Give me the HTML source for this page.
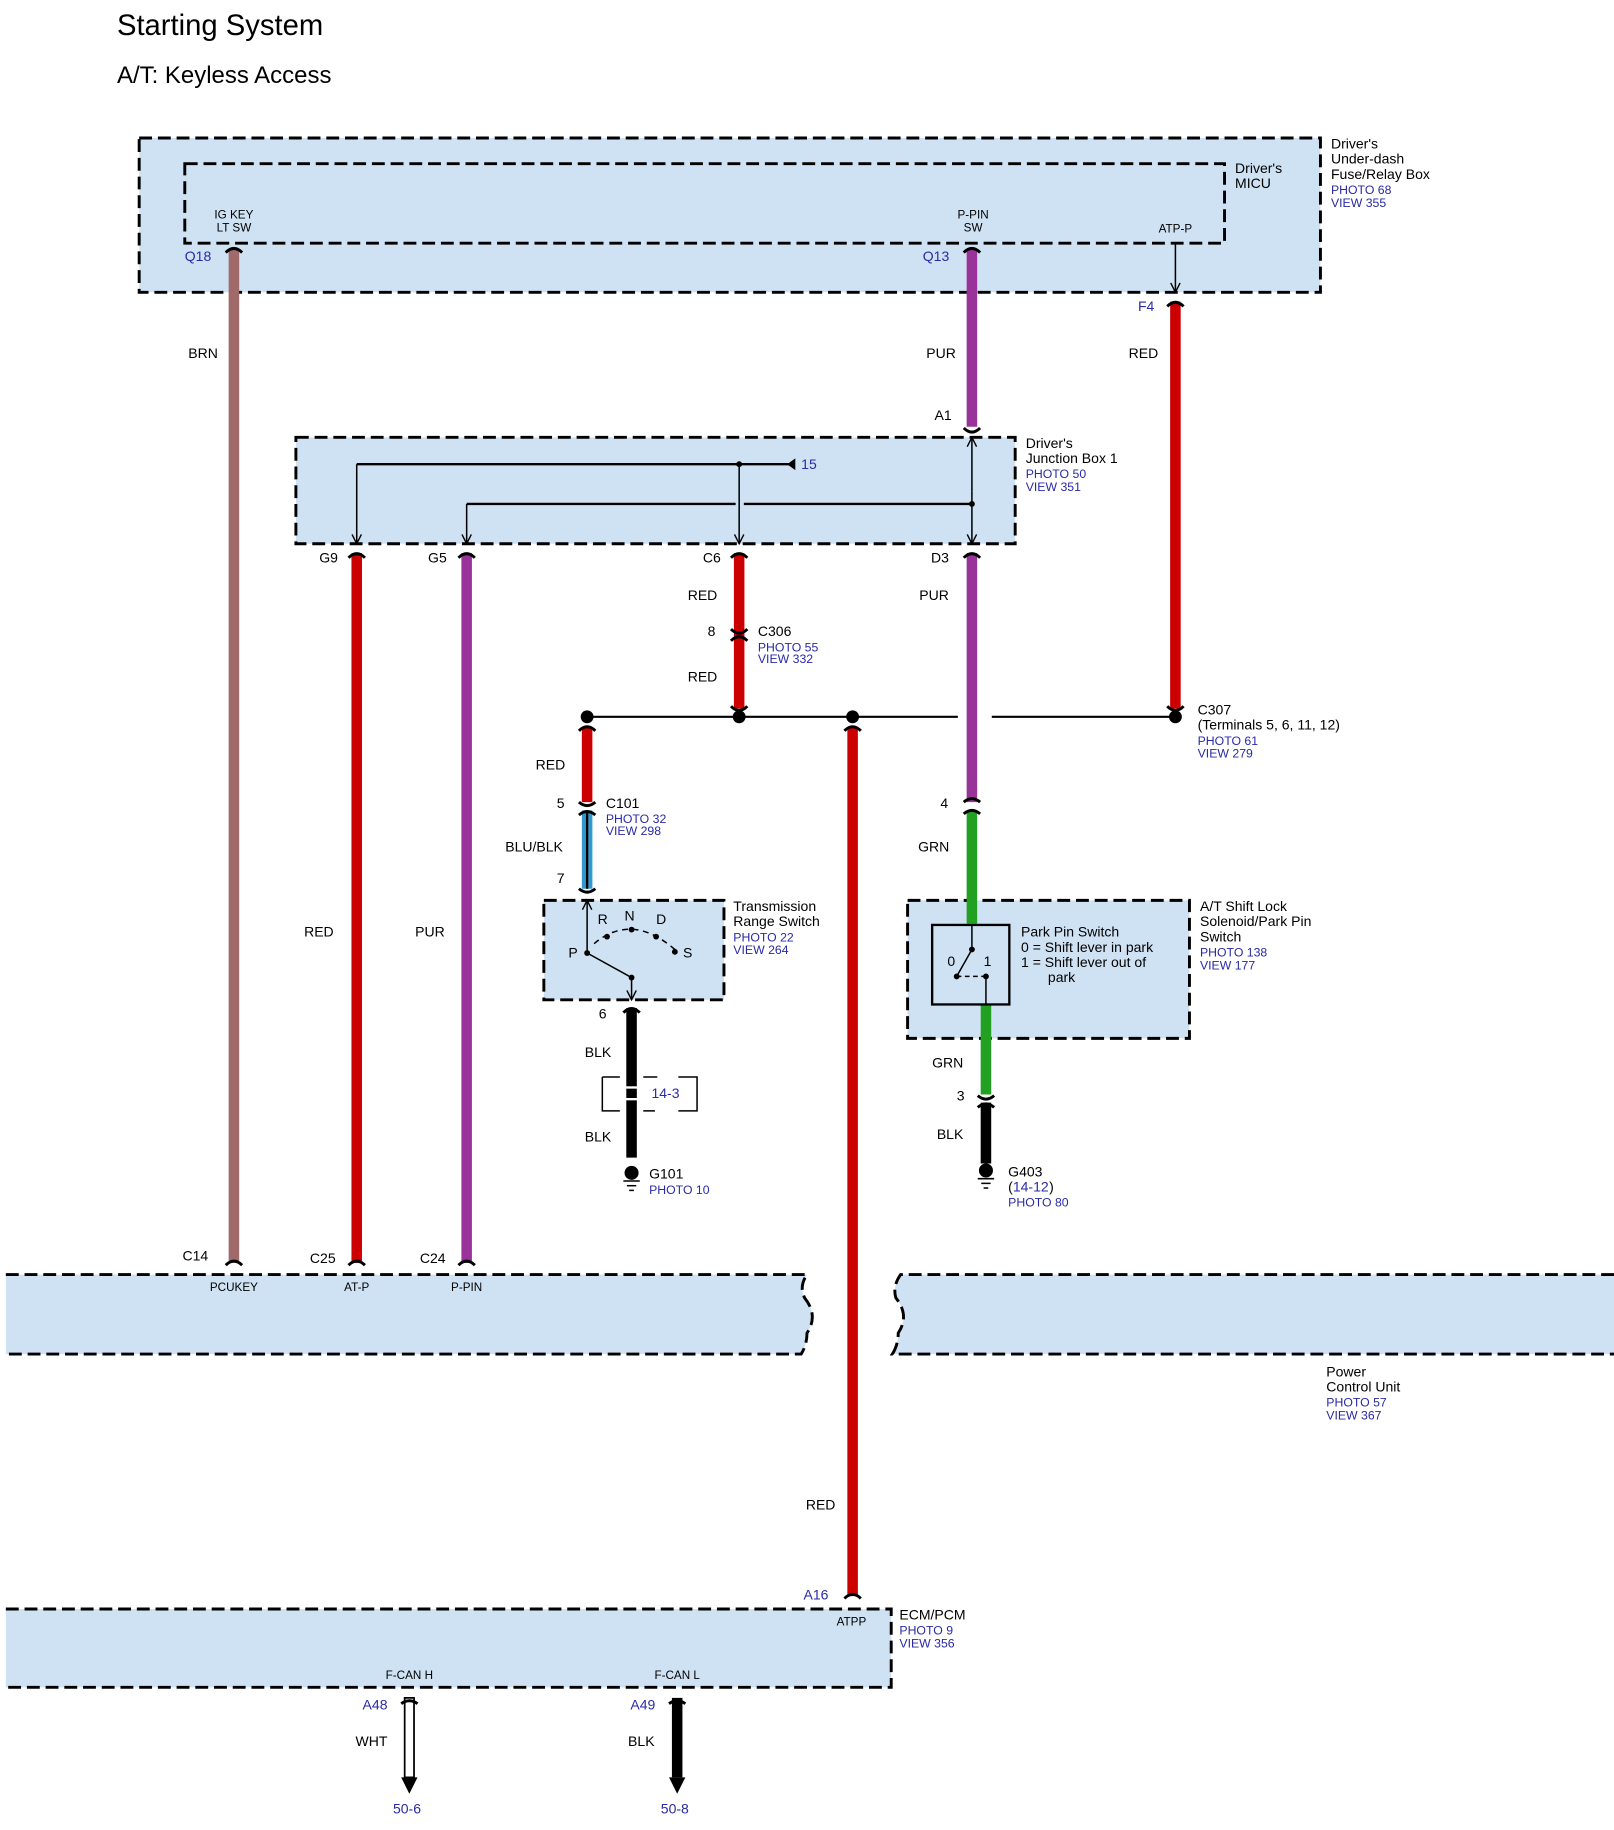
<!DOCTYPE html>
<html><head><meta charset="utf-8"><style>html,body{margin:0;padding:0;background:#fff}svg{display:block}</style></head>
<body>
<svg width="1614" height="1830" viewBox="0 0 1380 1565" preserveAspectRatio="none" xmlns="http://www.w3.org/2000/svg" font-family="Liberation Sans, sans-serif" font-size="12">
<defs>
<marker id="ar" markerWidth="10" markerHeight="10" refX="9" refY="5" orient="auto" markerUnits="userSpaceOnUse"><path d="M1,1 L9,5 L1,9" fill="none" stroke="#000" stroke-width="1.2"/></marker>
</defs>
<g fill="#000">
<text x="100" y="30" font-size="25">Starting System</text>
<text x="100" y="71" font-size="20.5">A/T: Keyless Access</text>
</g>
<!-- boxes -->
<g fill="#cfe2f3" stroke="#000" stroke-width="2.5" stroke-dasharray="11,5">
<rect x="119" y="118" width="1010" height="132"/>
<rect x="158" y="140" width="889" height="68"/>
<rect x="253" y="374" width="615" height="91"/>
<rect x="465" y="770" width="154" height="85"/>
<rect x="776" y="770" width="241" height="118"/>
<path d="M5,1090 H690 Q683,1100 688,1110 Q700,1125 690,1140 Q690,1150 685,1158 H5"/>
<path d="M1380,1090 H770 Q763,1100 766,1110 Q778,1125 768,1140 Q768,1150 763,1158 H1380"/>
<path d="M5,1376 H762 V1443 H5"/>
</g>
<!-- wires -->
<g stroke-width="9" fill="none">
<line x1="200" y1="213" x2="200" y2="1080" stroke="#a06a6a"/>
<line x1="831" y1="213" x2="831" y2="365" stroke="#993399"/>
<line x1="1005" y1="258" x2="1005" y2="606" stroke="#cc0000"/>
<line x1="305" y1="473" x2="305" y2="1080" stroke="#cc0000"/>
<line x1="399" y1="473" x2="399" y2="1080" stroke="#993399"/>
<line x1="632" y1="473" x2="632" y2="606" stroke="#cc0000"/>
<line x1="831" y1="473" x2="831" y2="686" stroke="#993399"/>
<line x1="502" y1="622" x2="502" y2="686" stroke="#cc0000"/>
<line x1="502" y1="693" x2="502" y2="760" stroke="#3399cc"/>
<line x1="729" y1="622" x2="729" y2="1365" stroke="#cc0000"/>
<line x1="831" y1="693" x2="831" y2="790" stroke="#22a022"/>
<line x1="843" y1="859" x2="843" y2="936" stroke="#22a022"/>
<line x1="843" y1="943" x2="843" y2="995" stroke="#000"/>
<line x1="540" y1="862" x2="540" y2="990" stroke="#000"/>
<line x1="579" y1="1452" x2="579" y2="1520" stroke="#000"/>
</g>
<line x1="502" y1="693" x2="502" y2="760" stroke="#000" stroke-width="2"/>
<rect x="346" y="1452" width="8" height="68" fill="#fff" stroke="#000" stroke-width="1.5"/>
<path d="M343,1520 H357 L350,1534Z M572,1520 H586 L579,1534Z" fill="#000"/>
<!-- connector caps -->
<g fill="none" stroke="#000" stroke-width="2.5">
<path d="M193,216 Q200,209 207,216"/>
<path d="M824,216 Q831,209 838,216"/>
<path d="M998,262 Q1005,255 1012,262"/>
<path d="M824,366 Q831,373 838,366"/>
<path d="M298,477 Q305,470 312,477"/>
<path d="M392,477 Q399,470 406,477"/>
<path d="M625,477 Q632,470 639,477"/>
<path d="M824,477 Q831,470 838,477"/>
<path d="M625,538 Q632,545 639,538 M625,548 Q632,541 639,548"/>
<path d="M625,604 Q632,611 639,604 M998,604 Q1005,611 1012,604"/>
<path d="M495,625 Q502,618 509,625 M722,625 Q729,618 736,625"/>
<path d="M495,686 Q502,692 509,686 M495,697 Q502,691 509,697"/>
<path d="M495,760 Q502,766 509,760"/>
<path d="M824,686 Q831,680 838,686 M824,696 Q831,690 838,696"/>
<path d="M533,866 Q540,859 547,866"/>
<path d="M836,937 Q843,943 850,937 M836,947 Q843,941 850,947"/>
<path d="M193,1082 Q200,1075 207,1082 M298,1082 Q305,1075 312,1082 M392,1082 Q399,1075 406,1082"/>
<path d="M722,1367 Q729,1360 736,1367"/>
<path d="M343,1457 Q350,1452 357,1457 M572,1457 Q579,1452 586,1457"/>
</g>
<rect x="534" y="929" width="12" height="2" fill="#fff"/><rect x="534" y="939" width="12" height="2" fill="#fff"/>
<!-- thin lines -->
<g stroke="#000" stroke-width="1.3" fill="none">
<line x1="1005" y1="208" x2="1005" y2="250" marker-end="url(#ar)"/>
<line x1="305" y1="397" x2="678" y2="397" stroke-width="2"/>
<line x1="305" y1="397" x2="305" y2="465" marker-end="url(#ar)"/>
<line x1="632" y1="397" x2="632" y2="465" marker-end="url(#ar)"/>
<line x1="399" y1="431" x2="629" y2="431" stroke-width="2"/>
<line x1="636" y1="431" x2="831" y2="431" stroke-width="2"/>
<line x1="399" y1="431" x2="399" y2="465" marker-end="url(#ar)"/>
<line x1="831" y1="420" x2="831" y2="465" marker-end="url(#ar)"/>
<line x1="831" y1="420" x2="831" y2="374" marker-end="url(#ar)"/>
<line x1="502" y1="613" x2="819" y2="613" stroke-width="1.8"/>
<line x1="848" y1="613" x2="1005" y2="613" stroke-width="1.8"/>
<line x1="502" y1="815" x2="502" y2="770" marker-end="url(#ar)"/>
<line x1="502" y1="815" x2="540" y2="836"/>
<line x1="540" y1="836" x2="540" y2="855" marker-end="url(#ar)"/>
<path d="M508,807 Q540,780 577,812" stroke-dasharray="5,4"/>
<rect x="797" y="791" width="66" height="68" stroke-width="2"/>
<line x1="831" y1="791" x2="831" y2="812"/>
<line x1="831" y1="812" x2="818" y2="835"/>
<line x1="818" y1="835" x2="843" y2="835" stroke-dasharray="4,3"/>
<line x1="843" y1="835" x2="843" y2="859"/>
<path d="M515,921 H530 M550,921 H562 M580,921 H596 V950 H580 M560,950 H550 M530,950 H515 V921"/>
<line x1="536" y1="1014" x2="544" y2="1014"/><line x1="533" y1="1010" x2="547" y2="1010"/><line x1="538" y1="1018" x2="542" y2="1018"/>
<line x1="839" y1="1012" x2="847" y2="1012"/><line x1="836" y1="1008" x2="850" y2="1008"/><line x1="841" y1="1016" x2="845" y2="1016"/>
</g>
<path d="M680,392 L673,397 L680,402Z" fill="#000"/>
<g fill="#000">
<circle cx="632" cy="397" r="2.5"/><circle cx="831" cy="431" r="2.5"/>
<circle cx="502" cy="613" r="5.5"/><circle cx="632" cy="613" r="5.5"/><circle cx="729" cy="613" r="5.5"/><circle cx="1005" cy="613" r="5.5"/>
<circle cx="502" cy="815" r="2.5"/><circle cx="519" cy="801" r="2.5"/><circle cx="540" cy="795" r="2.5"/><circle cx="561" cy="801" r="2.5"/><circle cx="577" cy="814" r="2.5"/><circle cx="540" cy="836" r="2.5"/>
<circle cx="831" cy="812" r="2.5"/><circle cx="818" cy="835" r="2.5"/><circle cx="843" cy="835" r="2.5"/>
<circle cx="540" cy="1003" r="6"/><circle cx="843" cy="1001" r="6"/>
</g>
<!-- black labels -->
<g fill="#000">
<g font-size="10" text-anchor="middle">
<text x="200" y="187">IG KEY</text><text x="200" y="198">LT SW</text>
<text x="832" y="187">P-PIN</text><text x="832" y="198">SW</text>
<text x="1005" y="199">ATP-P</text>
<text x="200" y="1104">PCUKEY</text><text x="305" y="1104">AT-P</text><text x="399" y="1104">P-PIN</text>
<text x="728" y="1390">ATPP</text>
<text x="350" y="1436">F-CAN H</text><text x="579" y="1436">F-CAN L</text>
</g>
<text x="1056" y="148">Driver's</text><text x="1056" y="161">MICU</text>
<text x="1138" y="127">Driver's</text><text x="1138" y="140">Under-dash</text><text x="1138" y="153">Fuse/Relay Box</text>
<text x="877" y="383">Driver's</text><text x="877" y="396">Junction Box 1</text>
<text x="161" y="306">BRN</text><text x="792" y="306">PUR</text><text x="965" y="306">RED</text>
<text x="799" y="359">A1</text>
<text x="273" y="481">G9</text><text x="366" y="481">G5</text><text x="601" y="481">C6</text><text x="796" y="481">D3</text>
<text x="588" y="513">RED</text><text x="786" y="513">PUR</text>
<text x="605" y="544">8</text><text x="648" y="544">C306</text>
<text x="588" y="583">RED</text>
<text x="1024" y="611">C307</text><text x="1024" y="624">(Terminals 5, 6, 11, 12)</text>
<text x="458" y="658">RED</text>
<text x="476" y="691">5</text><text x="518" y="691">C101</text>
<text x="804" y="691">4</text>
<text x="432" y="728">BLU/BLK</text><text x="785" y="728">GRN</text>
<text x="476" y="755">7</text>
<text x="627" y="779">Transmission</text><text x="627" y="792">Range Switch</text>
<text x="1026" y="779">A/T Shift Lock</text><text x="1026" y="792">Solenoid/Park Pin</text><text x="1026" y="805">Switch</text>
<text x="511" y="790">R</text><text x="534" y="787">N</text><text x="561" y="790">D</text><text x="486" y="819">P</text><text x="584" y="819">S</text>
<text x="873" y="801">Park Pin Switch</text><text x="873" y="814">0 = Shift lever in park</text><text x="873" y="827">1 = Shift lever out of</text><text x="896" y="840">park</text>
<text x="810" y="826">0</text><text x="841" y="826">1</text>
<text x="260" y="801">RED</text><text x="355" y="801">PUR</text>
<text x="512" y="871">6</text>
<text x="500" y="904">BLK</text><text x="797" y="913">GRN</text>
<text x="818" y="941">3</text>
<text x="500" y="976">BLK</text><text x="801" y="974">BLK</text>
<text x="555" y="1008">G101</text><text x="862" y="1006">G403</text><text x="862" y="1019">(</text><text x="897" y="1019">)</text>
<text x="156" y="1078">C14</text><text x="265" y="1080">C25</text><text x="359" y="1080">C24</text>
<text x="1134" y="1177">Power</text><text x="1134" y="1190">Control Unit</text>
<text x="689" y="1291">RED</text>
<text x="769" y="1385">ECM/PCM</text>
<text x="304" y="1493">WHT</text><text x="537" y="1493">BLK</text>
</g>
<!-- blue labels -->
<g fill="#2a2aa8">
<text x="158" y="223">Q18</text><text x="789" y="223">Q13</text><text x="973" y="266">F4</text>
<text x="685" y="401">15</text>
<text x="557" y="939">14-3</text>
<text x="866" y="1019">14-12</text>
<text x="687" y="1368">A16</text>
<text x="310" y="1462">A48</text><text x="539" y="1462">A49</text>
<text x="336" y="1551">50-6</text><text x="565" y="1551">50-8</text>
<g font-size="10.5">
<text x="1138" y="166">PHOTO 68</text><text x="1138" y="177">VIEW 355</text>
<text x="877" y="409">PHOTO 50</text><text x="877" y="420">VIEW 351</text>
<text x="648" y="557">PHOTO 55</text><text x="648" y="567">VIEW 332</text>
<text x="1024" y="637">PHOTO 61</text><text x="1024" y="648">VIEW 279</text>
<text x="518" y="704">PHOTO 32</text><text x="518" y="714">VIEW 298</text>
<text x="627" y="805">PHOTO 22</text><text x="627" y="816">VIEW 264</text>
<text x="1026" y="818">PHOTO 138</text><text x="1026" y="829">VIEW 177</text>
<text x="555" y="1021">PHOTO 10</text><text x="862" y="1032">PHOTO 80</text>
<text x="1134" y="1203">PHOTO 57</text><text x="1134" y="1214">VIEW 367</text>
<text x="769" y="1398">PHOTO 9</text><text x="769" y="1409">VIEW 356</text>
</g>
</g>
</svg>
</body></html>
